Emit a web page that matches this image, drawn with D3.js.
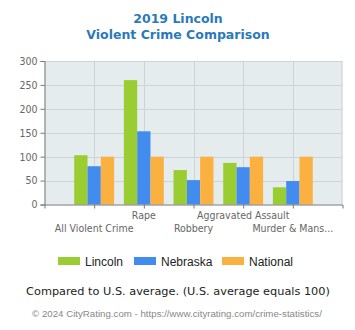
<!DOCTYPE html>
<html>
<head>
<meta charset="utf-8">
<script src="https://cdn.jsdelivr.net/npm/d3@7"></script>
<style>
  body { margin: 0; background: #fff; }
  svg { display: block; }
</style>
</head>
<body>
<svg id="chart" width="355" height="330"></svg>
<script>
// chart data
var categories = ['All Violent Crime', 'Rape', 'Robbery', 'Aggravated Assault', 'Murder & Mans...'];
var seriesNames = ['Lincoln', 'Nebraska', 'National'];
var lincoln = [103, 260, 72, 87, 36];
var nebraska = [80, 153, 51, 78, 49];
var national = [100, 100, 100, 100, 100];
var yTicks = [0, 50, 100, 150, 200, 250, 300];
var colors = ['#9acd32', '#428bef', '#fbb140'];

var svg = d3.select('#chart');
var plotL = 44.5, plotR = 342.5, plotT = 61, plotB = 204.5;
var smallFont = '10.5px "DejaVu Sans Condensed", "DejaVu Sans", Verdana, sans-serif';

// titles
svg.append('text')
    .attr('x', 178).attr('y', 23)
    .attr('text-anchor', 'middle')
    .style('font', 'bold 12.5px "DejaVu Sans", Verdana, sans-serif')
    .style('fill', '#2a7ab9')
    .text('2019 Lincoln');
svg.append('text')
    .attr('x', 178).attr('y', 39)
    .attr('text-anchor', 'middle')
    .style('font', 'bold 12.5px "DejaVu Sans", Verdana, sans-serif')
    .style('fill', '#2a7ab9')
    .text('Violent Crime Comparison');

var x = d3.scalePoint()
    .domain(categories)
    .range([plotL, plotR])
    .padding(1);

var y = d3.scaleLinear()
    .domain([0, 300])
    .range([plotB, plotT]);

var barW = 13.3;
var xs = d3.scaleBand()
    .domain(seriesNames)
    .range([-barW * 1.5, barW * 1.5]);

// plot background
svg.append('rect')
    .attr('x', plotL).attr('y', plotT)
    .attr('width', plotR - plotL).attr('height', plotB - plotT)
    .style('fill', '#e4ecee');

// gridlines
svg.selectAll('.hgrid')
    .data(yTicks.slice(1))
    .enter().append('line')
    .attr('class', 'hgrid')
    .attr('x1', plotL).attr('x2', plotR)
    .attr('y1', function(d) { return Math.round(y(d)) + 0.5; })
    .attr('y2', function(d) { return Math.round(y(d)) + 0.5; })
    .style('stroke', '#cdd3d6');
svg.selectAll('.vgrid')
    .data(categories)
    .enter().append('line')
    .attr('class', 'vgrid')
    .attr('y1', plotT).attr('y2', plotB)
    .attr('x1', function(d) { return Math.round(x(d)) + 0.5; })
    .attr('x2', function(d) { return Math.round(x(d)) + 0.5; })
    .style('stroke', '#cdd3d6');
svg.append('line')
    .attr('x1', plotR - 0.5).attr('x2', plotR - 0.5)
    .attr('y1', plotT).attr('y2', plotB)
    .style('stroke', '#cdd3d6');

// bars
var series = [lincoln, nebraska, national];
series.forEach(function(vals, si) {
    svg.selectAll('.bar' + si)
        .data(vals)
        .enter().append('rect')
        .attr('class', 'bar' + si)
        .attr('x', function(d, i) { return x(categories[i]) + xs(seriesNames[si]); })
        .attr('width', xs.bandwidth())
        .attr('y', function(d) { return y(d); })
        .attr('height', function(d) { return y(0) - y(d); })
        .style('fill', colors[si]);
});

// y axis
var yAxis = svg.append('g')
    .attr('transform', 'translate(' + plotL + ',0)')
    .call(d3.axisLeft(y).tickValues(yTicks).tickSize(4).tickPadding(3));
yAxis.select('.domain').style('stroke', '#777');
yAxis.selectAll('line').style('stroke', '#777');
yAxis.selectAll('text')
    .style('font', smallFont)
    .style('fill', '#666');

// x axis
var xAxis = svg.append('g')
    .attr('transform', 'translate(0,' + plotB + ')')
    .call(d3.axisBottom(x).tickSize(4).tickSizeOuter(4).tickFormat(''));
xAxis.select('.domain').style('stroke', '#777');
xAxis.selectAll('line').style('stroke', '#777');

svg.selectAll('.xlab')
    .data(categories)
    .enter().append('text')
    .attr('class', 'xlab')
    .attr('x', function(d) { return x(d); })
    .attr('y', function(d, i) { return i % 2 ? 219 : 232; })
    .attr('text-anchor', 'middle')
    .style('font', smallFont)
    .style('fill', '#666')
    .text(function(d) { return d; });

// legend
var legendX = [58, 134, 222];
var lg = svg.selectAll('.legend')
    .data(seriesNames)
    .enter().append('g')
    .attr('class', 'legend')
    .attr('transform', function(d, i) { return 'translate(' + legendX[i] + ',257)'; });
lg.append('rect')
    .attr('width', 22).attr('height', 8)
    .style('fill', function(d, i) { return colors[i]; });
lg.append('text')
    .attr('x', 27).attr('y', 8.5)
    .style('font', '12px "Liberation Sans", Arial, sans-serif')
    .style('fill', '#222')
    .text(function(d) { return d; });

svg.append('text')
    .attr('x', 178).attr('y', 295)
    .attr('text-anchor', 'middle')
    .style('font', '11.3px "DejaVu Sans", Verdana, sans-serif')
    .style('fill', '#222')
    .text('Compared to U.S. average. (U.S. average equals 100)');

svg.append('text')
    .attr('x', 177).attr('y', 317)
    .attr('text-anchor', 'middle')
    .style('font', '9.7px "Liberation Sans", Arial, sans-serif')
    .style('fill', '#888')
    .text('\u00a9 2024 CityRating.com - https://www.cityrating.com/crime-statistics/');
</script>
</body>
</html>
